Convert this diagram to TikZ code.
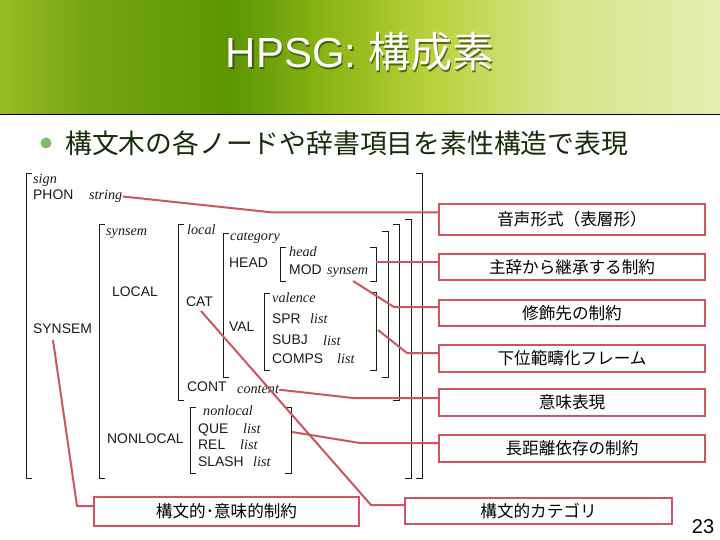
\documentclass[tikz,border=0pt]{standalone}
\usepackage{fontspec}
\setmainfont{Liberation Sans}
\newfontfamily\jpfont{Noto Sans CJK JP}
\newfontfamily\avmser{Liberation Serif}
\newcommand\myfs[1]{\fontsize{#1}{#1}\selectfont}
\definecolor{redc}{RGB}{205,85,95}
\definecolor{avmtext}{RGB}{20,32,20}
\definecolor{bodyc}{RGB}{22,45,10}
\definecolor{bulletc}{RGB}{125,190,95}
\definecolor{shadowc}{RGB}{50,70,10}
\definecolor{bgA}{RGB}{152,188,36}
\definecolor{bgB}{RGB}{118,165,18}
\definecolor{bgC}{RGB}{92,150,2}
\definecolor{bgD}{RGB}{140,182,22}
\definecolor{bgE}{RGB}{185,210,60}
\definecolor{bgF}{RGB}{214,230,138}
\definecolor{bgG}{RGB}{228,238,176}
\pgfdeclarehorizontalshading{banner}{100bp}{%
  color(0bp)=(bgA);
  color(25bp)=(bgA);
  color(31bp)=(bgB);
  color(41bp)=(bgC);
  color(48bp)=(bgD);
  color(55bp)=(bgE);
  color(64bp)=(bgF);
  color(75bp)=(bgG);
  color(100bp)=(bgG)}
\newcommand\lbrk[3]{\draw[brk] (#1+6,#2) -- (#1,#2) -- (#1,#3) -- (#1+6,#3);}
\newcommand\rbrk[3]{\draw[brk] (#1-6,#2) -- (#1,#2) -- (#1,#3) -- (#1-6,#3);}
\begin{document}
\begin{tikzpicture}[x=1pt,y=-1pt,
  lab/.style={font=\myfs{13.9}, anchor=mid west, inner sep=0pt, text=avmtext},
  itl/.style={font=\avmser\itshape\myfs{14.2}, anchor=mid west, inner sep=0pt, text=avmtext},
  brk/.style={draw=avmtext, line width=0.8pt},
  conn/.style={draw=redc, line width=2pt, line join=round},
  jbox/.style={draw=redc, line width=2.4pt, inner sep=0pt, font=\jpfont\myfs{16.6}, text=black}]
\useasboundingbox (0,0) rectangle (720,540);
\fill[white] (0,0) rectangle (720,540);
% banner
\shade[shading=banner] (0,0) rectangle (720,114);
\draw[line width=1.2pt, black] (0,114.5) -- (720,114.5);
\node[font=\myfs{42}, text=shadowc, opacity=0.75] (titleshadow) at (361.5,53.5) {HPSG: {\jpfont 構成素}};
\node[font=\myfs{42}, text=white] (title) at (360,52) {HPSG: {\jpfont 構成素}};
% bullet
\fill[bulletc] (46,143) circle (5.5);
\node[font=\jpfont\myfs{26.8}, anchor=west, inner sep=0pt, text=bodyc] (bul) at (65,143) {構文木の各ノードや辞書項目を素性構造で表現};
% brackets
\lbrk{26}{173}{478} \rbrk{422}{173}{478}
\lbrk{99}{224}{478} \rbrk{411}{219}{478}
\lbrk{178}{224}{400} \rbrk{399}{224}{400}
\lbrk{223}{233}{377} \rbrk{388}{231}{377}
\lbrk{280}{247}{281} \rbrk{376}{247}{281}
\lbrk{264}{293}{370} \rbrk{376}{292}{370}
\lbrk{190}{407}{473} \rbrk{291}{407}{473}
% AVM labels
\node[itl] (sign) at (33,181) {sign};
\node[lab] (phon) at (33,197) {PHON};
\node[itl] (str) at (89,197) {string};
\node[itl] (synsemt) at (106,233) {synsem};
\node[lab] (localf) at (112,294) {LOCAL};
\node[lab] (synsemf) at (33,331) {SYNSEM};
\node[itl] (localt) at (187,232) {local};
\node[lab] (cat) at (186,304) {CAT};
\node[itl] (catt) at (230,238) {category};
\node[lab] (headf) at (229,265) {HEAD};
\node[itl] (headt) at (289,254) {head};
\node[lab] (mod) at (289,272) {MOD};
\node[itl] (modv) at (327,272) {synsem};
\node[itl] (valt) at (272,300) {valence};
\node[lab] (val) at (229,329) {VAL};
\node[lab] (spr) at (272,321) {SPR};
\node[itl] (sprv) at (310,321) {list};
\node[lab] (subj) at (272,342) {SUBJ};
\node[itl] (subjv) at (323,343) {list};
\node[lab] (comps) at (272,361) {COMPS};
\node[itl] (compsv) at (337,361) {list};
\node[lab] (cont) at (187,389) {CONT};
\node[itl] (contv) at (237,391) {content};
\node[itl] (nlt) at (203,413) {nonlocal};
\node[lab] (que) at (198,431) {QUE};
\node[itl] (quev) at (243,431) {list};
\node[lab] (rel) at (198,447) {REL};
\node[itl] (relv) at (240,447) {list};
\node[lab] (slash) at (198,464) {SLASH};
\node[itl] (slashv) at (253,464) {list};
\node[lab] (nonloc) at (107,441) {NONLOCAL};
% boxes
\node[jbox, minimum width=265.6, minimum height=30.6] (b1) at (572,219.5) {音声形式（表層形）};
\node[jbox, minimum width=265.6, minimum height=25.6] (b2) at (572,267) {主辞から継承する制約};
\node[jbox, minimum width=265.6, minimum height=25.6] (b3) at (572,313) {修飾先の制約};
\node[jbox, minimum width=265.6, minimum height=26.6] (b4) at (572,358.5) {下位範疇化フレーム};
\node[jbox, minimum width=265.6, minimum height=26.6] (b5) at (572,402.5) {意味表現};
\node[jbox, minimum width=265.6, minimum height=26.6] (b6) at (572,448.5) {長距離依存の制約};
\node[jbox, minimum width=266.6, minimum height=25.6] (b7) at (538.5,511) {構文的カテゴリ};
\node[jbox, minimum width=264.6, minimum height=28.6] (b8) at (226.5,511.5) {構文的･意味的制約};
% connector points
\coordinate (k1) at (273,212.5);
\coordinate (s2) at (376,262);
\coordinate (s3) at (353,281);
\coordinate (k3) at (394,307);
\coordinate (s4) at (378,330);
\coordinate (k4) at (407,353);
\coordinate (k5) at (353,398);
\coordinate (s6) at (292,432);
\coordinate (k6) at (360,443);
\coordinate (s7) at (201,311);
\coordinate (k7) at (371,505);
\coordinate (s8) at (53,340);
\coordinate (k8) at (77,506);
% connectors
\draw[conn] (str.east) -- (k1) -- (k1 -| b1.west);
\draw[conn] (s2) -- (s2 -| b2.west);
\draw[conn] (s3) -- (k3) -- (k3 -| b3.west);
\draw[conn] (s4) -- (k4) -- (k4 -| b4.west);
\draw[conn] (contv.east) -- (k5) -- (k5 -| b5.west);
\draw[conn] (s6) -- (k6) -- (k6 -| b6.west);
\draw[conn] (s7) -- (k7) -- (k7 -| b7.west);
\draw[conn] (s8) -- (k8) -- (k8 -| b8.west);
% page number
\node[font=\myfs{20}, text=black] (pg) at (703,527) {23};
\end{tikzpicture}
\end{document}
